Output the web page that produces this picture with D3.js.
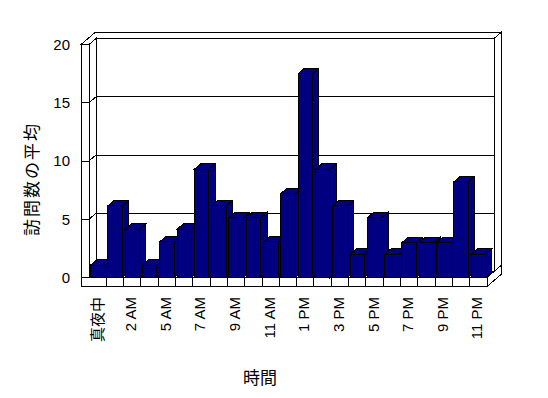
<!DOCTYPE html>
<html><head><meta charset="utf-8">
<script src="https://cdn.jsdelivr.net/npm/d3@7"></script>
<style>
html,body{margin:0;padding:0;background:#fff;}
svg{display:block;}
path,line{shape-rendering:crispEdges;}
text{font-family:"Liberation Sans",Arial,"Noto Sans CJK JP",sans-serif;fill:#000;}
.jp{font-family:"Noto Sans CJK JP","Liberation Sans",sans-serif;}
</style>
</head><body>
<script>
// ---- data ----
const categories = ["真夜中","1 AM","2 AM","3 AM","5 AM","6 AM","7 AM","8 AM","9 AM","10 AM","11 AM","正午",
  "1 PM","2 PM","3 PM","4 PM","5 PM","6 PM","7 PM","8 PM","9 PM","10 PM","11 PM"];
const values = [1.07,6.14,4.14,1.07,3.07,4.14,9.29,6.14,5.14,5.14,3.07,7.21,
  17.5,9.29,6.14,2.0,5.14,2.0,3.0,3.0,3.0,8.21,2.0];
const yTicks = [0,5,10,15,20];
const yTitle = "訪問数の平均";
const xTitle = "時間";

// ---- layout ----
const W = 548, H = 398;
const DX = 7, DY = -6;          // one depth unit
const wallOuter = 81, floorThick = 9;
const x = d3.scaleBand().domain(categories).range([89, 487]).padding(0);
const y = d3.scaleLinear().domain([0, 20]).range([277.5, 44.5]);
const X0 = x.range()[0], X1 = x.range()[1];
const Y0 = y(0), YT = y(20);
const navy = "#000080";

const svg = d3.select("body").append("svg").attr("width", W).attr("height", H);
const g = svg.append("g");
const poly = pts => "M" + pts.map(p => p.join(",")).join("L") + "Z";
const line = pts => "M" + pts.map(p => p.join(",")).join("L");
const st = sel => sel.attr("fill", "#fff").attr("stroke", "#000").attr("stroke-width", 1);

// back wall front face (depth 1)
st(g.append("path").attr("d", poly([[X0+DX, YT+DY],[X1+DX, YT+DY],[X1+DX, Y0+DY],[X0+DX, Y0+DY]])));
// combined top of left wall + back wall
st(g.append("path").attr("d", poly([[wallOuter, YT],[wallOuter+2*DX, YT+2*DY],[X1+2*DX, YT+2*DY],[X1+DX, YT+DY],[X0+DX, YT+DY],[X0, YT]])));
// back wall right side
st(g.append("path").attr("d", poly([[X1+DX, YT+DY],[X1+2*DX, YT+2*DY],[X1+2*DX, Y0+2*DY],[X1+DX, Y0+DY]])));
// left wall inner face
st(g.append("path").attr("d", poly([[X0, YT],[X0+DX, YT+DY],[X0+DX, Y0+DY],[X0, Y0]])));
// left wall front face
st(g.append("path").attr("d", poly([[wallOuter, YT],[X0, YT],[X0, Y0],[wallOuter, Y0]])));
// floor top
st(g.append("path").attr("d", poly([[X0, Y0],[X1, Y0],[X1+DX, Y0+DY],[X0+DX, Y0+DY]])));
// floor front
st(g.append("path").attr("d", poly([[wallOuter, Y0],[X1, Y0],[X1, Y0+floorThick],[wallOuter, Y0+floorThick]])));
// floor right side
st(g.append("path").attr("d", poly([[X1, Y0],[X1+2*DX, Y0+2*DY],[X1+2*DX, Y0+2*DY+floorThick],[X1, Y0+floorThick]])));

// gridlines
yTicks.filter(v => v > 0 && v < 20).forEach(v => {
  g.append("path").attr("fill", "none").attr("stroke", "#000")
    .attr("d", line([[wallOuter, y(v)],[X0, y(v)],[X0+DX, y(v)+DY],[X1+DX, y(v)+DY]]));
});

// floor category dividers
categories.forEach((c, i) => {
  if (i === 0) return;
  g.append("line").attr("x1", x(c)).attr("x2", x(c)).attr("y1", Y0).attr("y2", Y0+floorThick)
    .attr("stroke", "#000");
});

// bars
const pad = 1.5, bw = 14.5, bdx = 6.3, bdy = -5.4;
const bars = g.append("g");
categories.forEach((c, i) => {
  const v = values[i];
  const x0 = x(c) + pad, yt = y(v);
  const bg = bars.append("g").attr("fill", navy).attr("stroke", "#000").attr("stroke-width", 1);
  bg.append("path").attr("d", poly([[x0+bw, yt],[x0+bw+bdx, yt+bdy],[x0+bw+bdx, Y0+bdy],[x0+bw, Y0]]));
  bg.append("path").attr("d", poly([[x0, yt],[x0+bw, yt],[x0+bw+bdx, yt+bdy],[x0+bdx, yt+bdy]]));
  bg.append("path").attr("d", poly([[x0, yt],[x0+bw, yt],[x0+bw, Y0],[x0, Y0]]));
});

// y tick labels via axis
const ax = svg.append("g").attr("transform", "translate(70,0)")
  .call(d3.axisLeft(y).tickValues(yTicks).tickSize(0).tickPadding(0).tickFormat(d3.format("d")));
ax.select(".domain").remove();
ax.selectAll("text").attr("font-size", 15).attr("font-family", "Liberation Sans, Arial, sans-serif").attr("fill", "#000");

// x labels (every other)
categories.forEach((c, i) => {
  if (i % 2 !== 0) return;
  const cx = x(c) + x.bandwidth()/2 - 1.5;
  svg.append("text").attr("class", /[^\x00-\x7F]/.test(c) ? "jp" : null)
    .attr("transform", `translate(${cx},297) rotate(-90)`)
    .attr("text-anchor", "end").attr("dominant-baseline", "central")
    .attr("font-size", 15).attr("fill", "#000").style("opacity", 0.999).text(c);
});

// titles
svg.append("text").attr("class", "jp").attr("x", 260).attr("y", 376)
  .attr("text-anchor", "middle").attr("dominant-baseline", "central").attr("font-size", 17).text(xTitle);
svg.append("text").attr("class", "jp").attr("transform", "translate(30,179) rotate(-90)")
  .attr("text-anchor", "middle").attr("dominant-baseline", "central").attr("font-size", 17)
  .attr("letter-spacing", 2).text(yTitle);
</script>
</body></html>
